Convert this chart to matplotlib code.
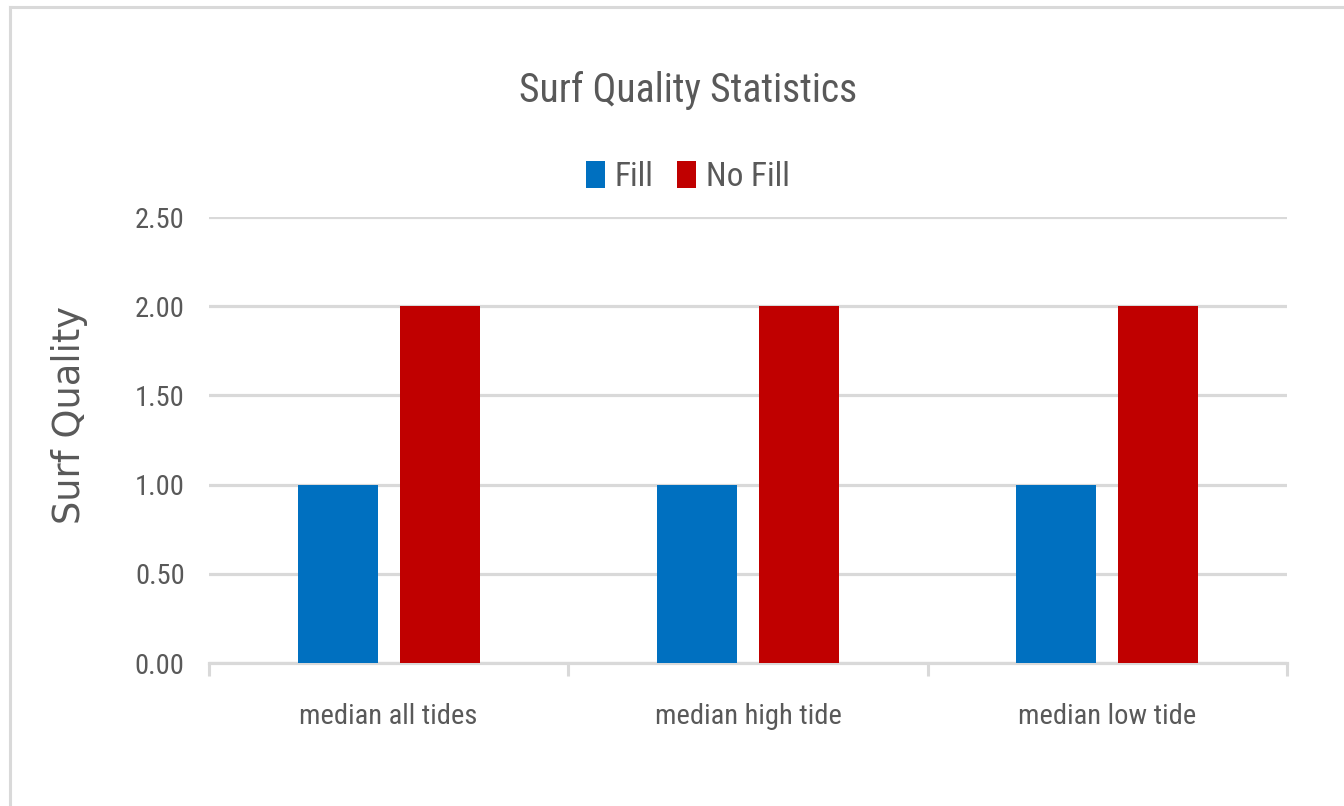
import matplotlib
matplotlib.use("Agg")
import matplotlib.pyplot as plt
from matplotlib.lines import Line2D
from matplotlib.patches import Patch
import numpy as np

categories = ["median all tides", "median high tide", "median low tide"]
fill_values = [1.0, 1.0, 1.0]
nofill_values = [2.0, 2.0, 2.0]
series_names = ["Fill", "No Fill"]
y_ticks = [0.0, 0.5, 1.0, 1.5, 2.0, 2.5]
title = "Surf Quality Statistics"
y_label = "Surf Quality"

BLUE = "#0070C0"
RED = "#C00000"
GRID = "#D9D9D9"
TEXT = "#595959"

narrow = ["Roboto Condensed", "Roboto", "DejaVu Sans"]

W, H, DPI = 1344, 806, 100
fig = plt.figure(figsize=(W / DPI, H / DPI), dpi=DPI)
fig.patch.set_facecolor("white")

# chart frame: top and left edges
fy = 1 - 7 / H
fx = 9.5 / W
fig.add_artist(Line2D([fx, 1.0], [fy, fy], transform=fig.transFigure,
                      color=GRID, linewidth=2.2))
fig.add_artist(Line2D([fx, fx], [0.0, fy], transform=fig.transFigure,
                      color=GRID, linewidth=2.2))

ax = fig.add_axes([209 / W, 1 - 663 / H, (1287 - 209) / W, (663 - 217) / H])
x = np.arange(len(categories))
off, bw = 0.142, 0.222
ax.bar(x - off, fill_values, width=bw, color=BLUE, zorder=3, label=series_names[0])
ax.bar(x + off, nofill_values, width=bw, color=RED, zorder=3, label=series_names[1])

ax.set_xlim(-0.5, len(categories) - 0.5)
ax.set_ylim(0, 2.5)
ax.set_yticks(y_ticks)
ax.set_yticklabels([f"{v:.2f}" for v in y_ticks], fontfamily=narrow,
                   fontsize=20.5, color=TEXT)
ax.tick_params(axis="y", length=0, pad=17.5)
ax.yaxis.grid(True, color=GRID, linewidth=2.3, zorder=0)
ax.set_axisbelow(True)

# category labels centred, tick marks at category boundaries
ax.set_xticks(np.arange(-0.5, len(categories)), minor=False)
ax.set_xticklabels([""] * (len(categories) + 1))
ax.tick_params(axis="x", which="major", length=9, width=2.2, color=GRID,
               direction="out")
ax.set_xticks(x, minor=True)
ax.set_xticklabels(categories, minor=True, fontfamily=narrow, fontsize=20.5,
                   color=TEXT)
ax.tick_params(axis="x", which="minor", length=0, pad=29)

for s in ["top", "right", "left"]:
    ax.spines[s].set_visible(False)
ax.spines["bottom"].set_color(GRID)
ax.spines["bottom"].set_linewidth(2.3)

ax.set_ylabel(y_label, fontfamily="DejaVu Sans", fontsize=26.5, color=TEXT,
              labelpad=0)
ax.yaxis.set_label_coords(-(209 - 88) / (1287 - 209), (663 - 415) / (663 - 217))

fig.text(688 / W, 1 - 90 / H, title, ha="center", va="center",
         fontfamily=narrow, fontsize=28.5, color=TEXT)

handles = [Patch(facecolor=BLUE), Patch(facecolor=RED)]
fig.legend(handles, series_names, loc="center", bbox_to_anchor=(688 / W, 1 - 177 / H),
           ncol=2, frameon=False, prop={"family": narrow, "size": 24},
           handlelength=0.57, handleheight=0.85, handletextpad=0.3,
           columnspacing=0.7, labelcolor=TEXT)

fig.savefig("out.png", dpi=DPI, facecolor="white")
